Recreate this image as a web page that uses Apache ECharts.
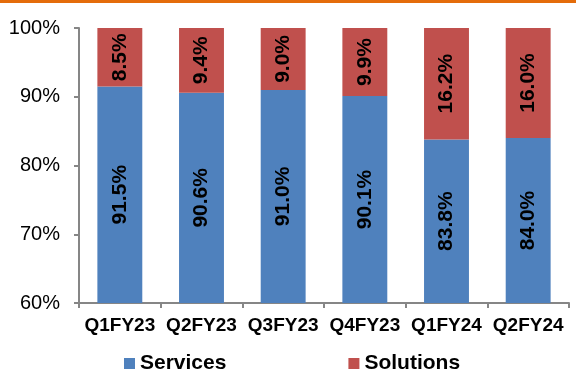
<!DOCTYPE html>
<html>
<head>
<meta charset="utf-8">
<script src="https://cdn.jsdelivr.net/npm/echarts@6/dist/echarts.min.js"></script>
<style>
  html, body { margin: 0; padding: 0; background: #fff; }
  #chart { width: 576px; height: 370px; }
</style>
</head>
<body>
<div id="chart"></div>
<script>
// Quarterly revenue mix (share of total, %)
const quarters = ['Q1FY23', 'Q2FY23', 'Q3FY23', 'Q4FY23', 'Q1FY24', 'Q2FY24'];
const services = [91.5, 90.6, 91.0, 90.1, 83.8, 84.0];
const solutions = [8.5, 9.4, 9.0, 9.9, 16.2, 16.0];
const yTicks = [60, 70, 80, 90, 100];

const FONT = 'Liberation Sans, Arial, sans-serif';
const axisGrey = '#868686';

const segLabel = {
  show: true,
  position: 'inside',
  rotate: 90,
  fontFamily: FONT,
  fontWeight: 'bold',
  fontSize: 21,
  color: '#000',
  formatter: p => p.value.toFixed(1) + '%'
};

const chart = echarts.init(document.getElementById('chart'), null, { renderer: 'canvas' });
chart.setOption({
  animation: false,
  backgroundColor: '#fff',
  graphic: [{
    type: 'rect',
    left: 0, top: 0,
    shape: { width: 576, height: 3 },
    style: { fill: '#E46C0A' }
  }],
  grid: { left: 79, right: 7, top: 28, bottom: 67, containLabel: false },
  legend: {
    left: 124,
    top: 353,
    padding: 0,
    itemWidth: 11,
    itemHeight: 11,
    itemGap: 122,
    icon: 'rect',
    textStyle: { fontFamily: FONT, fontWeight: 'bold', fontSize: 21, color: '#000' },
    data: ['Services', 'Solutions']
  },
  xAxis: {
    type: 'category',
    data: quarters,
    axisLine: { lineStyle: { color: axisGrey, width: 2 } },
    axisTick: { show: true, length: 5, interval: 0, lineStyle: { color: axisGrey, width: 2 } },
    axisLabel: { interval: 0, margin: 13, fontFamily: FONT, fontWeight: 'bold', fontSize: 19, color: '#000' }
  },
  yAxis: {
    type: 'value',
    min: yTicks[0],
    max: yTicks[yTicks.length - 1],
    interval: 10,
    startValue: yTicks[0],
    splitLine: { show: false },
    axisLine: { show: true, lineStyle: { color: axisGrey, width: 2 } },
    axisTick: { show: true, length: 5, lineStyle: { color: axisGrey, width: 2 } },
    axisLabel: { margin: 19, fontFamily: FONT, fontSize: 20, color: '#000', formatter: v => v + '%' }
  },
  series: [
    {
      name: 'Services',
      type: 'bar',
      stack: 'mix',
      barWidth: '55%',
      itemStyle: { color: '#4F81BD' },
      label: segLabel,
      data: services
    },
    {
      name: 'Solutions',
      type: 'bar',
      stack: 'mix',
      barWidth: '55%',
      itemStyle: { color: '#C0504D' },
      label: segLabel,
      data: solutions
    }
  ]
});
</script>
</body>
</html>
